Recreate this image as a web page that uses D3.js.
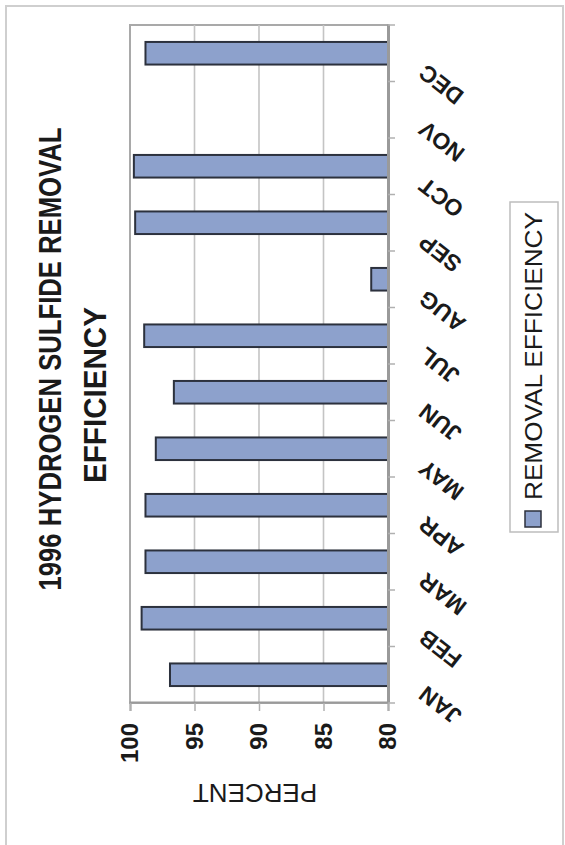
<!DOCTYPE html>
<html>
<head>
<meta charset="utf-8">
<script src="https://cdn.jsdelivr.net/npm/d3@7/dist/d3.min.js"></script>
<style>
  html, body { margin: 0; padding: 0; background: #ffffff; }
  svg { display: block; }
  text { font-family: "Liberation Sans", Arial, sans-serif; fill: #1a1a1a; }
</style>
</head>
<body>
<svg id="chart" width="565" height="845"></svg>
<script>
// Monthly H2S removal efficiency, 1996 (NOV has no reading)
const months = ["JAN", "FEB", "MAR", "APR", "MAY", "JUN", "JUL", "AUG", "SEP", "OCT", "NOV", "DEC"];
const efficiency = [96.9, 99.1, 98.8, 98.8, 98.0, 96.6, 98.9, 81.3, 99.6, 99.7, null, 98.8];
const valueTicks = [80, 85, 90, 95, 100];
const titleLines = ["1996 HYDROGEN SULFIDE REMOVAL", "EFFICIENCY"];
const seriesName = "REMOVAL EFFICIENCY";
const axisTitle = "PERCENT";

const W = 845, H = 565; // chart is laid out landscape, then turned a quarter turn
const plot = { left: 142, right: 820, top: 130, bottom: 388 };

const svg = d3.select("#chart");
const g = svg.append("g").attr("transform", `translate(0,${W}) rotate(-90)`);

// outer chart frame
g.append("rect")
  .attr("x", -10).attr("y", 6).attr("width", 849).attr("height", 557)
  .attr("fill", "#ffffff").attr("stroke", "#cfcfcf").attr("stroke-width", 2);

const x = d3.scaleBand().domain(months)
  .range([plot.left, plot.right]).paddingInner(0.6).paddingOuter(0.3);
const y = d3.scaleLinear().domain([80, 100]).range([plot.bottom, plot.top]);

// plot area outline
g.append("rect")
  .attr("x", plot.left).attr("y", plot.top)
  .attr("width", plot.right - plot.left).attr("height", plot.bottom - plot.top)
  .attr("fill", "none").attr("stroke", "#a9a9a9").attr("stroke-width", 2);

// gridlines
g.append("g").selectAll("line").data(valueTicks.filter(v => v > 80 && v < 100)).join("line")
  .attr("x1", plot.left).attr("x2", plot.right)
  .attr("y1", d => y(d)).attr("y2", d => y(d))
  .attr("stroke", "#c4c4c4").attr("stroke-width", 1.6);

// bars
const data = months.map((m, i) => ({ m, v: efficiency[i] })).filter(d => d.v != null);
g.append("g").selectAll("rect").data(data).join("rect")
  .attr("x", d => x(d.m)).attr("width", x.bandwidth())
  .attr("y", d => y(d.v)).attr("height", d => y(80) - y(d.v))
  .attr("fill", "#8da1cc").attr("stroke", "#2c313d").attr("stroke-width", 2);

// value axis
const yAxis = g.append("g").attr("transform", `translate(${plot.left},0)`)
  .call(d3.axisLeft(y).tickValues(valueTicks).tickSize(8).tickPadding(12));
yAxis.select(".domain").attr("stroke", "#9a9a9a").attr("stroke-width", 2);
yAxis.selectAll(".tick line").attr("stroke", "#b0b0b0").attr("stroke-width", 1.5);
yAxis.selectAll(".tick text")
  .attr("font-size", 24).attr("font-weight", "bold").attr("fill", "#1a1a1a")
  .style("font-family", "'Liberation Sans', Arial, sans-serif");

// category axis
const xAxis = g.append("g").attr("transform", `translate(0,${plot.bottom})`)
  .call(d3.axisBottom(x).tickSize(0).tickPadding(0));
xAxis.select(".domain").attr("stroke", "#9a9a9a").attr("stroke-width", 3);
xAxis.selectAll(".tick text")
  .attr("y", 0).attr("dy", 0)
  .attr("transform", "translate(-10,39) rotate(-52)")
  .attr("text-anchor", "end")
  .attr("font-size", 23).attr("font-weight", "bold").attr("fill", "#1a1a1a")
  .style("font-family", "'Liberation Sans', Arial, sans-serif");

// tick marks between categories
const bounds = d3.range(months.length + 1).map(i => plot.left + i * x.step());
g.append("g").selectAll("line").data(bounds).join("line")
  .attr("x1", d => d).attr("x2", d => d)
  .attr("y1", plot.bottom).attr("y2", plot.bottom + 7)
  .attr("stroke", "#b0b0b0").attr("stroke-width", 1.5);

// value axis title
g.append("text")
  .attr("transform", "translate(61,255) rotate(-90)")
  .attr("text-anchor", "middle")
  .attr("font-size", 26)
  .text(axisTitle);

// chart title
g.append("text")
  .attr("x", 486).attr("y", 61).attr("text-anchor", "middle")
  .attr("font-size", 32).attr("font-weight", "bold")
  .attr("textLength", 463).attr("lengthAdjust", "spacingAndGlyphs")
  .text(titleLines[0]);
g.append("text")
  .attr("x", 450).attr("y", 106).attr("text-anchor", "middle")
  .attr("font-size", 32).attr("font-weight", "bold")
  .attr("textLength", 176).attr("lengthAdjust", "spacingAndGlyphs")
  .text(titleLines[1]);

// legend
const lg = g.append("g");
lg.append("rect")
  .attr("x", 313).attr("y", 510).attr("width", 330).attr("height", 48)
  .attr("fill", "#ffffff").attr("stroke", "#bdbdbd").attr("stroke-width", 1.5);
lg.append("rect")
  .attr("x", 318).attr("y", 525).attr("width", 16).attr("height", 16)
  .attr("fill", "#8da1cc").attr("stroke", "#2c313d").attr("stroke-width", 1.5);
lg.append("text")
  .attr("x", 345).attr("y", 542)
  .attr("font-size", 24)
  .attr("textLength", 288).attr("lengthAdjust", "spacingAndGlyphs")
  .text(seriesName);
</script>
</body>
</html>
